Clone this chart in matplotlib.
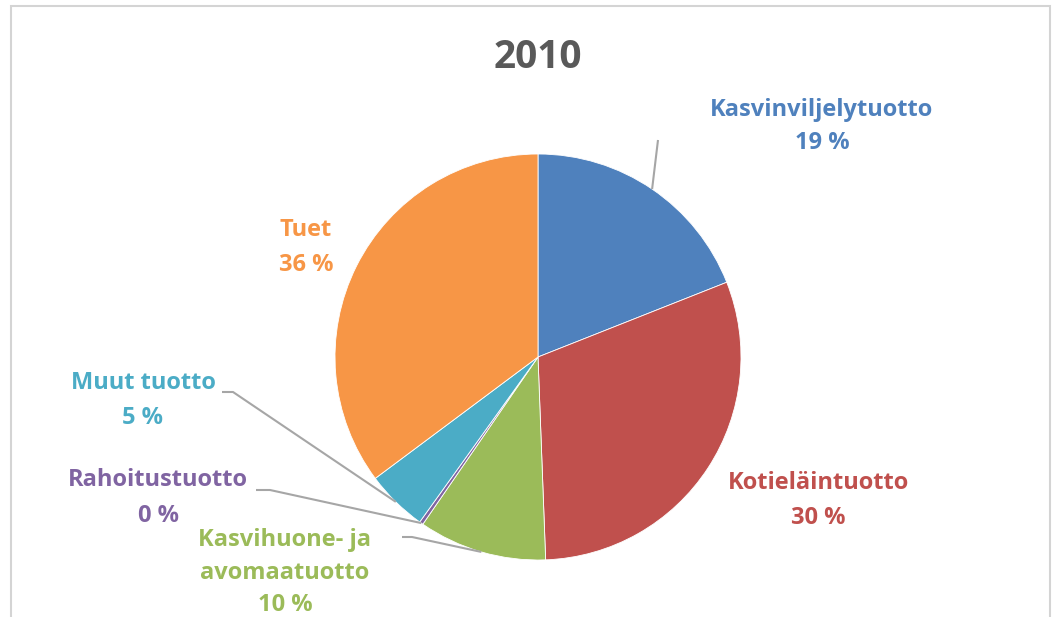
import numpy as np
import matplotlib
matplotlib.use("Agg")
import matplotlib.pyplot as plt
from matplotlib.patches import Rectangle

# ---- data ----
categories = ["Kasvinviljelytuotto", "Kotieläintuotto", "Kasvihuone- ja\navomaatuotto",
              "Rahoitustuotto", "Muut tuotto", "Tuet"]
values = [19.0, 30.4, 10.2, 0.3, 4.9, 35.2]
pct_labels = ["19 %", "30 %", "10 %", "0 %", "5 %", "36 %"]
colors = ["#4F81BD", "#C0504D", "#9BBB59", "#8064A2", "#4BACC6", "#F79646"]
title = "2010"

W, H = 1061, 617
fig = plt.figure(figsize=(W / 100, H / 100), dpi=100)
ax = fig.add_axes([0, 0, 1, 1])
ax.set_xlim(0, W)
ax.set_ylim(0, H)
ax.set_aspect("equal")
ax.axis("off")

def Y(y):  # image y (top-down) to axes y
    return H - y

# frame
ax.add_patch(Rectangle((11, Y(640)), 1039, 634, fill=False, edgecolor="#d4d4d4", lw=1.5))

cx, cy, R = 538, Y(357), 203
wedges, _ = ax.pie(values, colors=colors, startangle=90, counterclock=False,
                   center=(cx, cy), radius=R,
                   wedgeprops=dict(edgecolor="white", linewidth=0.6))
ax.set_xlim(0, W)
ax.set_ylim(0, H)

LFONT = "Open Sans"
ax.text(538, Y(58), title, ha="center", va="center", fontsize=28, fontweight="bold",
        color="#595959", family=LFONT)

layout = {
    0: dict(x=822, ys=[110, 143], leader=[(658, 140)]),
    1: dict(x=818, ys=[483, 518], leader=None),
    2: dict(x=285, ys=[540, 573, 605], leader=[(402, 537), (412, 537)]),
    3: dict(x=158, ys=[480, 516], leader=[(256, 490), (270, 490)]),
    4: dict(x=143, ys=[383, 418], leader=[(222, 392), (233, 392)]),
    5: dict(x=306, ys=[230, 265], leader=None),
}

for i, w in enumerate(wedges):
    lay = layout[i]
    lines = categories[i].split("\n") + [pct_labels[i]]
    for ln, yy in zip(lines, lay["ys"]):
        ax.text(lay["x"], Y(yy), ln, ha="center", va="center", fontsize=17,
                fontweight="bold", color=colors[i], family=LFONT)
    if lay["leader"]:
        mid = np.deg2rad((w.theta1 + w.theta2) / 2)
        ex, ey = cx + R * np.cos(mid), cy + R * np.sin(mid)
        xs = [p[0] for p in lay["leader"]] + [ex]
        ys = [Y(p[1]) for p in lay["leader"]] + [ey]
        ax.plot(xs, ys, color="#a6a6a6", lw=1.5, solid_capstyle="butt")

fig.savefig("out.png", dpi=100)
